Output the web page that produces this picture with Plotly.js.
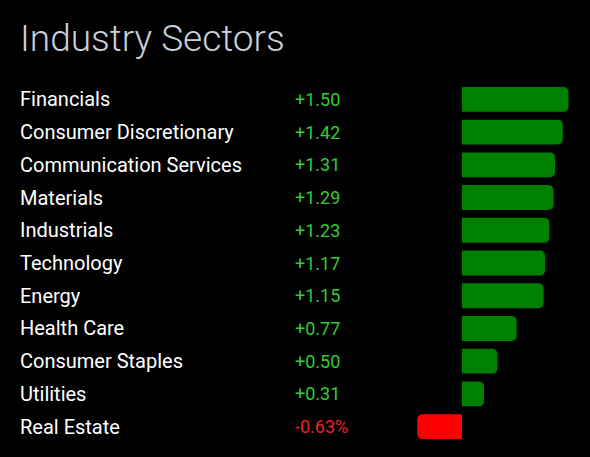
<!DOCTYPE html>
<html>
<head>
<meta charset="utf-8">
<script src="https://cdn.plot.ly/plotly-3.0.1.min.js"></script>
<style>
html,body{margin:0;padding:0;background:#000;}
#chart{width:590px;height:457px;}
</style>
</head>
<body>
<div id="chart"></div>
<script>
const sectors = ["Financials","Consumer Discretionary","Communication Services","Materials","Industrials","Technology","Energy","Health Care","Consumer Staples","Utilities","Real Estate"];
const changes = [1.50,1.42,1.31,1.29,1.23,1.17,1.15,0.77,0.50,0.31,-0.63];
const valueLabels = ["+1.50","+1.42","+1.31","+1.29","+1.23","+1.17","+1.15","+0.77","+0.50","+0.31","-0.63%"];

const barColors = changes.map(v => v >= 0 ? "#008000" : "#ff0000");
const textColors = changes.map(v => v >= 0 ? "#33cc33" : "#ee2020");

const trace = {
  type: "bar",
  orientation: "h",
  x: changes,
  y: sectors,
  marker: {color: barColors, cornerradius: 5, line: {width: 0}},
  hoverinfo: "none"
};

const annotations = [];
sectors.forEach((s, i) => {
  annotations.push({
    x: 18/590, xref: "paper", xanchor: "left",
    y: s, yref: "y", yanchor: "middle",
    text: s, showarrow: false,
    font: {family: "Roboto", size: 20, color: "#ffffff"}
  });
  annotations.push({
    x: 293/590, xref: "paper", xanchor: "left",
    y: s, yref: "y", yanchor: "middle",
    text: valueLabels[i], showarrow: false,
    font: {family: "Roboto", size: 18, color: textColors[i]}
  });
});

const pxPerUnit = 71;
const zeroPx = 462;
const layout = {
  width: 590, height: 457,
  paper_bgcolor: "#000000",
  plot_bgcolor: "#000000",
  margin: {l: 0, r: 0, t: 83, b: 14},
  title: {
    text: "Industry Sectors",
    x: 20/590, xanchor: "left", xref: "paper",
    y: 1 - 38/457, yanchor: "middle",
    font: {family: "Roboto", size: 37, color: "#c8d0da", weight: 300}
  },
  bargap: 0.24,
  showlegend: false,
  xaxis: {range: [-zeroPx/pxPerUnit, (590 - zeroPx)/pxPerUnit], visible: false, fixedrange: true},
  yaxis: {autorange: "reversed", visible: false, fixedrange: true},
  annotations: annotations
};

Plotly.newPlot("chart", [trace], layout, {displayModeBar: false, staticPlot: true});
</script>
</body>
</html>
